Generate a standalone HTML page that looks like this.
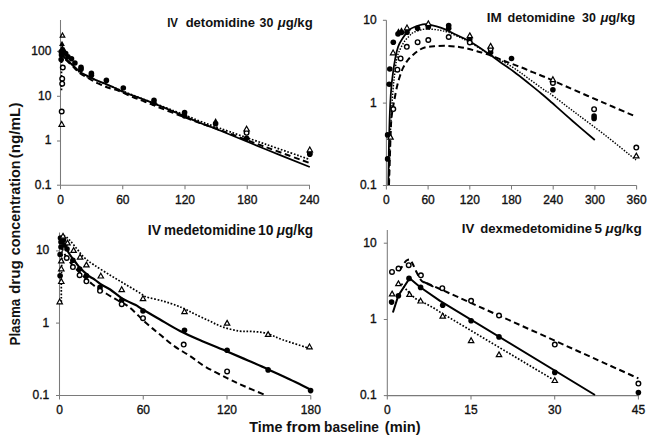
<!DOCTYPE html>
<html><head><meta charset="utf-8"><style>
html,body{margin:0;padding:0;background:#fff;}
svg{display:block;}
text{font-family:"Liberation Sans",sans-serif;fill:#111;}
.tk{font-size:12px;stroke:#111;stroke-width:0.35px;}
.ti{font-size:12.8px;font-weight:bold;}
.lb{font-size:14.4px;font-weight:bold;}
.ax{stroke:#7a7a7a;stroke-width:1.05;fill:none;}
.s{stroke:#000;stroke-width:2.2;fill:none;stroke-linejoin:round;}
.s.ptl{stroke-width:1.8;}
.s.ptr{stroke-width:1.75;}
.s.pbr{stroke-width:2.0;}
.o.ptr{stroke-width:1.45;stroke-dasharray:1.45 1.45;}
.d{stroke:#000;stroke-width:2;fill:none;stroke-dasharray:6 3.6;}
.o{stroke:#000;stroke-width:1.7;fill:none;stroke-dasharray:1.7 1.7;}
.fc{fill:#000;}
.oc{fill:#fff;stroke:#000;stroke-width:1.4;}
.tr{fill:#fff;stroke:#000;stroke-width:1.2;stroke-linejoin:miter;}
.ft{fill:#000;}
</style></head><body>
<svg width="657" height="443" viewBox="0 0 657 443">
<path class="ax" d="M60.5,20 V185.2 H310"/>
<path class="ax" d="M57.0,51.4 H60.5"/>
<path class="ax" d="M57.0,96.3 H60.5"/>
<path class="ax" d="M57.0,141 H60.5"/>
<path class="ax" d="M57.0,185.2 H60.5"/>
<path class="ax" d="M60.5,185.2 V189.2"/>
<path class="ax" d="M122.75,185.2 V189.2"/>
<path class="ax" d="M185.0,185.2 V189.2"/>
<path class="ax" d="M247.25000000000003,185.2 V189.2"/>
<path class="ax" d="M309.5,185.2 V189.2"/>
<text class="tk" transform="translate(51.4,54.8) scale(1.0,1)" text-anchor="end">100</text>
<text class="tk" transform="translate(51.4,99.7) scale(1.0,1)" text-anchor="end">10</text>
<text class="tk" transform="translate(51.4,144.4) scale(1.0,1)" text-anchor="end">1</text>
<text class="tk" transform="translate(51.4,188.6) scale(1.0,1)" text-anchor="end">0.1</text>
<text class="tk" transform="translate(60.5,203.7) scale(1.0,1)" text-anchor="middle">0</text>
<text class="tk" transform="translate(122.8,203.7) scale(1.0,1)" text-anchor="middle">60</text>
<text class="tk" transform="translate(185.0,203.7) scale(1.0,1)" text-anchor="middle">120</text>
<text class="tk" transform="translate(247.3,203.7) scale(1.0,1)" text-anchor="middle">180</text>
<text class="tk" transform="translate(309.5,203.7) scale(1.0,1)" text-anchor="middle">240</text>
<text class="ti" x="167.13" y="26.9" style="font-size:12.9px" textLength="10.85" lengthAdjust="spacingAndGlyphs">IV</text>
<text class="ti" x="185.67" y="26.9" style="font-size:12.9px" textLength="69.38" lengthAdjust="spacingAndGlyphs">detomidine</text>
<text class="ti" x="259.62" y="26.9" style="font-size:12.9px" textLength="13.79" lengthAdjust="spacingAndGlyphs">30</text>
<text class="ti" x="277.80" y="26.9" style="font-size:12.9px" textLength="34.88" lengthAdjust="spacingAndGlyphs"><tspan font-style="italic">&#956;</tspan>g/kg</text>
<path class="s ptl" d="M62.3,50.0 C62.5,51.0 61.9,54.0 63.4,56.3 C64.9,58.6 68.8,61.4 71.5,63.9 C74.2,66.5 77.0,69.6 79.7,71.6 C82.4,73.6 85.1,74.7 87.8,76.1 C90.5,77.5 93.1,78.8 96.0,80.1 C98.9,81.3 101.8,82.3 105.0,83.6 C108.2,84.9 111.7,86.5 115.0,88.0 C118.3,89.5 119.2,90.3 125.0,92.6 C130.8,94.9 141.7,98.6 150.0,101.9 C158.3,105.2 168.3,109.4 175.0,112.2 C181.7,115.0 185.8,116.8 190.0,118.6 C194.2,120.4 196.7,121.7 200.0,123.0 C203.3,124.3 206.7,125.3 210.0,126.6 C213.3,127.8 210.8,126.8 220.0,130.5 C229.2,134.2 250.0,142.9 265.0,149.0 C280.0,155.1 302.3,164.0 309.8,167.0"/>
<path class="d" d="M62.3,51.0 C62.6,52.1 62.4,55.1 64.0,57.5 C65.6,59.9 69.3,62.9 72.0,65.5 C74.7,68.1 77.3,71.1 80.0,73.2 C82.7,75.3 85.3,76.4 88.0,78.0 C90.7,79.6 93.5,81.3 96.2,82.6 C98.9,83.9 101.7,85.0 104.0,86.0 C106.3,87.0 107.5,87.5 110.0,88.3 C112.5,89.1 115.5,89.5 119.3,91.0 C123.1,92.5 128.4,95.2 132.7,97.0 C137.0,98.8 140.3,99.9 144.9,101.7 C149.5,103.5 154.2,105.5 160.0,107.8 C165.8,110.1 173.3,113.0 180.0,115.5 C186.7,118.0 193.3,120.6 200.0,123.0 C206.7,125.4 209.2,126.0 220.0,130.0 C230.8,134.0 250.0,141.3 265.0,146.8 C280.0,152.3 302.3,160.3 309.8,163.0"/>
<path class="o" d="M62.0,50.0 C62.3,51.2 62.3,54.5 64.0,57.0 C65.7,59.5 69.3,62.4 72.0,65.0 C74.7,67.6 77.3,70.5 80.0,72.5 C82.7,74.5 84.7,75.5 88.0,77.0 C91.3,78.5 93.0,79.0 100.0,81.8 C107.0,84.6 117.5,89.1 130.0,94.0 C142.5,98.9 163.3,106.7 175.0,111.2 C186.7,115.7 192.5,118.3 200.0,121.2 C207.5,124.1 209.2,124.5 220.0,128.3 C230.8,132.1 250.0,138.8 265.0,144.0 C280.0,149.2 302.3,156.9 309.8,159.5"/>
<path class="o" d="M61.5,58.0 L61.5,92.0"/>
<path class="tr" d="M62.5,33.0 L64.8,37.1 L60.2,37.1Z"/>
<path class="ft" d="M62.0,40.7 L64.9,45.9 L59.1,45.9Z"/>
<path class="ft" d="M62.3,44.7 L65.2,49.9 L59.4,49.9Z"/>
<path class="ft" d="M64.0,46.7 L66.9,51.9 L61.1,51.9Z"/>
<circle class="fc" cx="61.2" cy="51.7" r="2.8"/>
<circle class="fc" cx="61.5" cy="55.0" r="2.8"/>
<circle class="fc" cx="65.7" cy="53.5" r="2.8"/>
<circle class="fc" cx="67.9" cy="56.7" r="2.8"/>
<circle class="fc" cx="71.5" cy="58.8" r="2.8"/>
<circle class="fc" cx="74.9" cy="63.0" r="2.8"/>
<circle class="fc" cx="81.0" cy="67.4" r="2.8"/>
<circle class="fc" cx="81.0" cy="69.3" r="2.8"/>
<circle class="fc" cx="91.4" cy="73.4" r="2.8"/>
<circle class="fc" cx="91.4" cy="75.3" r="2.8"/>
<circle class="fc" cx="106.4" cy="80.4" r="2.8"/>
<circle class="fc" cx="123.3" cy="88.0" r="2.8"/>
<circle class="fc" cx="154.0" cy="100.3" r="2.8"/>
<circle class="fc" cx="154.0" cy="103.2" r="2.8"/>
<circle class="fc" cx="184.6" cy="112.6" r="2.8"/>
<circle class="fc" cx="184.6" cy="116.0" r="2.8"/>
<circle class="fc" cx="215.6" cy="123.8" r="2.8"/>
<circle class="fc" cx="246.6" cy="138.2" r="2.8"/>
<circle class="fc" cx="309.8" cy="153.0" r="2.8"/>
<circle class="fc" cx="309.8" cy="154.2" r="2.8"/>
<circle class="fc" cx="61.2" cy="59.6" r="2.8"/>
<circle class="oc" cx="62.8" cy="67.5" r="2.3"/>
<circle class="oc" cx="62.2" cy="78.7" r="2.3"/>
<circle class="oc" cx="62.2" cy="83.7" r="2.3"/>
<circle class="oc" cx="61.7" cy="111.5" r="2.3"/>
<circle class="oc" cx="246.6" cy="132.8" r="2.3"/>
<path class="tr" d="M61.7,121.5 L64.4,126.3 L59.0,126.3Z"/>
<path class="tr" d="M246.6,126.2 L249.3,131.0 L243.9,131.0Z"/>
<path class="tr" d="M309.8,147.0 L312.5,151.8 L307.1,151.8Z"/>
<path class="ft" d="M215.6,117.9 L218.4,122.9 L212.8,122.9Z"/>
<path class="ax" d="M386.4,20.3 V185.5 H636.6"/>
<path class="ax" d="M382.9,20.3 H386.4"/>
<path class="ax" d="M382.9,103.1 H386.4"/>
<path class="ax" d="M382.9,185.5 H386.4"/>
<path class="ax" d="M386.4,185.5 V189.5"/>
<path class="ax" d="M428.09999999999997,185.5 V189.5"/>
<path class="ax" d="M469.79999999999995,185.5 V189.5"/>
<path class="ax" d="M511.5,185.5 V189.5"/>
<path class="ax" d="M553.1999999999999,185.5 V189.5"/>
<path class="ax" d="M594.9,185.5 V189.5"/>
<path class="ax" d="M636.5999999999999,185.5 V189.5"/>
<text class="tk" transform="translate(376.6,24.1) scale(1.0,1)" text-anchor="end">10</text>
<text class="tk" transform="translate(376.6,106.8) scale(1.0,1)" text-anchor="end">1</text>
<text class="tk" transform="translate(376.6,189.2) scale(1.0,1)" text-anchor="end">0.1</text>
<text class="tk" transform="translate(386.4,203.7) scale(1.0,1)" text-anchor="middle">0</text>
<text class="tk" transform="translate(428.1,203.7) scale(1.0,1)" text-anchor="middle">60</text>
<text class="tk" transform="translate(469.8,203.7) scale(1.0,1)" text-anchor="middle">120</text>
<text class="tk" transform="translate(511.5,203.7) scale(1.0,1)" text-anchor="middle">180</text>
<text class="tk" transform="translate(553.2,203.7) scale(1.0,1)" text-anchor="middle">240</text>
<text class="tk" transform="translate(594.9,203.7) scale(1.0,1)" text-anchor="middle">300</text>
<text class="tk" transform="translate(636.6,203.7) scale(1.0,1)" text-anchor="middle">360</text>
<text class="ti" x="486.80" y="21.8" style="font-size:12.9px" textLength="15.01" lengthAdjust="spacingAndGlyphs">IM</text>
<text class="ti" x="507.48" y="21.8" style="font-size:12.9px" textLength="67.65" lengthAdjust="spacingAndGlyphs">detomidine</text>
<text class="ti" x="582.12" y="21.8" style="font-size:12.9px" textLength="13.79" lengthAdjust="spacingAndGlyphs">30</text>
<text class="ti" x="600.40" y="21.8" style="font-size:12.9px" textLength="34.88" lengthAdjust="spacingAndGlyphs"><tspan font-style="italic">&#956;</tspan>g/kg</text>
<path class="s ptr" d="M388.3,185.0 C388.4,180.8 388.6,168.3 388.7,160.0 C388.8,151.7 388.9,144.2 389.2,135.0 C389.4,125.8 389.8,113.2 390.2,105.0 C390.6,96.8 391.0,91.2 391.5,85.7 C392.0,80.2 392.5,76.6 393.1,72.1 C393.7,67.6 394.4,62.9 395.2,58.6 C396.0,54.3 397.0,49.9 398.2,46.5 C399.4,43.1 400.7,41.2 402.5,38.5 C404.3,35.8 406.9,32.0 409.1,30.0 C411.3,28.0 413.2,27.5 415.5,26.6 C417.8,25.7 420.8,24.8 422.8,24.4 C424.8,24.0 425.1,24.0 427.4,24.3 C429.7,24.6 433.4,25.5 436.5,26.4 C439.6,27.3 442.6,28.3 445.7,29.6 C448.8,30.9 450.9,32.3 455.0,34.3 C459.1,36.3 464.3,38.2 470.0,41.5 C475.7,44.8 484.0,50.6 489.0,54.0 C494.0,57.4 495.9,59.1 500.0,62.0 C504.1,64.9 509.1,68.2 513.6,71.5 C518.1,74.8 522.6,78.4 527.1,82.0 C531.6,85.6 536.9,89.8 540.7,93.0 C544.5,96.2 544.8,96.4 550.0,101.0 C555.2,105.6 564.5,114.0 572.0,120.5 C579.5,127.0 591.0,136.8 594.8,140.0"/>
<path class="o ptr" d="M388.8,185.0 C388.9,180.8 389.1,168.3 389.4,160.0 C389.6,151.7 389.9,143.3 390.3,135.0 C390.7,126.7 391.2,117.5 391.6,110.0 C392.1,102.5 392.5,95.8 393.0,90.0 C393.5,84.2 394.0,80.0 394.6,75.0 C395.2,70.0 395.8,63.8 396.5,60.0 C397.2,56.2 397.6,55.2 398.8,52.3 C400.0,49.4 402.1,45.1 403.8,42.4 C405.5,39.7 407.6,37.8 409.2,36.1 C410.8,34.4 411.4,33.5 413.7,32.4 C416.0,31.3 419.8,29.9 422.8,29.4 C425.9,28.9 428.9,29.0 432.0,29.2 C435.1,29.4 438.4,30.0 441.1,30.5 C443.8,31.0 445.6,31.4 448.4,32.4 C451.2,33.4 454.4,34.8 458.0,36.5 C461.6,38.2 464.8,39.6 470.0,42.5 C475.2,45.4 484.0,51.1 489.0,54.0 C494.0,56.9 495.9,57.7 500.0,60.0 C504.1,62.3 509.1,64.9 513.6,67.8 C518.1,70.7 521.9,73.7 527.1,77.5 C532.3,81.3 541.2,87.8 545.0,90.5 C548.8,93.2 545.0,89.8 550.0,93.5 C555.0,97.2 565.8,105.6 575.0,112.5 C584.2,119.4 594.8,127.2 605.0,135.1 C615.2,143.0 630.8,155.8 636.0,160.0"/>
<path class="d" d="M389.0,185.0 C389.1,180.8 389.5,170.0 389.8,160.0 C390.1,150.0 390.6,133.3 391.0,125.0 C391.4,116.7 392.1,113.3 392.5,110.0 C392.9,106.7 393.1,106.8 393.4,105.0 C393.7,103.2 393.9,102.4 394.5,99.2 C395.1,96.0 396.3,89.5 397.2,85.7 C398.1,81.9 398.9,79.2 399.9,76.2 C400.9,73.2 401.9,70.1 403.3,67.4 C404.7,64.7 406.3,62.0 408.0,59.9 C409.7,57.8 411.7,56.1 413.5,54.5 C415.3,52.9 417.1,51.4 419.0,50.2 C420.9,49.0 422.2,48.2 424.7,47.5 C427.2,46.8 430.2,46.5 434.0,46.2 C437.8,45.9 443.5,45.8 447.7,45.9 C451.9,46.0 455.6,46.5 459.0,47.0 C462.4,47.5 465.0,48.0 468.0,48.7 C471.0,49.4 474.0,50.4 477.0,51.2 C480.0,52.1 482.7,52.7 486.0,53.8 C489.3,54.9 493.8,56.7 497.0,57.9 C500.2,59.1 502.2,60.1 505.0,61.2 C507.8,62.3 511.0,63.5 514.0,64.6 C517.0,65.7 519.9,66.8 523.0,68.0 C526.1,69.2 528.8,70.6 532.5,72.1 C536.2,73.6 539.6,74.7 545.4,77.2 C551.2,79.7 557.8,82.8 567.4,87.0 C577.0,91.2 592.1,97.8 603.3,102.6 C614.4,107.4 629.1,113.7 634.3,115.9"/>
<circle class="fc" cx="387.6" cy="158.9" r="2.8"/>
<circle class="fc" cx="387.6" cy="134.9" r="2.8"/>
<circle class="fc" cx="389.2" cy="84.2" r="2.8"/>
<circle class="fc" cx="389.8" cy="69.0" r="2.8"/>
<circle class="fc" cx="393.3" cy="42.2" r="2.8"/>
<circle class="fc" cx="398.0" cy="34.0" r="2.8"/>
<circle class="fc" cx="401.5" cy="32.5" r="2.8"/>
<circle class="fc" cx="407.0" cy="32.3" r="2.8"/>
<circle class="fc" cx="417.6" cy="28.3" r="2.8"/>
<circle class="fc" cx="428.3" cy="26.9" r="2.8"/>
<circle class="fc" cx="448.7" cy="25.6" r="2.8"/>
<circle class="fc" cx="448.7" cy="28.3" r="2.8"/>
<circle class="fc" cx="469.8" cy="39.0" r="2.8"/>
<circle class="fc" cx="490.6" cy="52.5" r="2.8"/>
<circle class="fc" cx="511.5" cy="58.5" r="2.8"/>
<circle class="fc" cx="552.9" cy="89.8" r="2.8"/>
<circle class="fc" cx="594.1" cy="116.0" r="2.8"/>
<circle class="fc" cx="594.1" cy="118.4" r="2.8"/>
<path class="ft" d="M398.5,28.2 L401.4,33.4 L395.6,33.4Z"/>
<path class="ft" d="M401.5,27.2 L404.4,32.4 L398.6,32.4Z"/>
<circle class="oc" cx="393.3" cy="109.1" r="2.3"/>
<circle class="oc" cx="397.4" cy="69.7" r="2.3"/>
<circle class="oc" cx="400.6" cy="58.4" r="2.3"/>
<circle class="oc" cx="406.8" cy="46.8" r="2.3"/>
<circle class="oc" cx="417.6" cy="42.2" r="2.3"/>
<circle class="oc" cx="428.3" cy="40.0" r="2.3"/>
<circle class="oc" cx="448.7" cy="37.0" r="2.3"/>
<circle class="oc" cx="469.8" cy="42.5" r="2.3"/>
<circle class="oc" cx="490.6" cy="49.0" r="2.3"/>
<circle class="oc" cx="552.9" cy="82.9" r="2.3"/>
<circle class="oc" cx="594.1" cy="109.2" r="2.3"/>
<circle class="oc" cx="636.3" cy="147.6" r="2.3"/>
<path class="tr" d="M390.5,134.4 L393.2,139.2 L387.8,139.2Z"/>
<path class="tr" d="M393.1,50.0 L395.8,54.8 L390.4,54.8Z"/>
<path class="tr" d="M407.0,25.0 L409.7,29.8 L404.3,29.8Z"/>
<path class="tr" d="M428.3,20.9 L431.0,25.7 L425.6,25.7Z"/>
<path class="tr" d="M469.8,32.9 L472.5,37.7 L467.1,37.7Z"/>
<path class="tr" d="M490.6,43.4 L493.3,48.2 L487.9,48.2Z"/>
<path class="tr" d="M552.9,76.8 L555.6,81.6 L550.2,81.6Z"/>
<path class="tr" d="M636.3,153.1 L639.0,157.9 L633.6,157.9Z"/>
<path class="ax" d="M59.5,232.5 V395.5 H310.8"/>
<path class="ax" d="M56.0,250.9 H59.5"/>
<path class="ax" d="M56.0,323.1 H59.5"/>
<path class="ax" d="M56.0,395.5 H59.5"/>
<path class="ax" d="M59.5,395.5 V399.5"/>
<path class="ax" d="M143.26,395.5 V399.5"/>
<path class="ax" d="M227.01999999999998,395.5 V399.5"/>
<path class="ax" d="M310.78,395.5 V399.5"/>
<text class="tk" transform="translate(49.3,254.3) scale(1.0,1)" text-anchor="end">10</text>
<text class="tk" transform="translate(49.3,326.5) scale(1.0,1)" text-anchor="end">1</text>
<text class="tk" transform="translate(49.3,398.9) scale(1.0,1)" text-anchor="end">0.1</text>
<text class="tk" transform="translate(59.5,413.6) scale(1.0,1)" text-anchor="middle">0</text>
<text class="tk" transform="translate(143.3,413.6) scale(1.0,1)" text-anchor="middle">60</text>
<text class="tk" transform="translate(227.0,413.6) scale(1.0,1)" text-anchor="middle">120</text>
<text class="tk" transform="translate(310.8,413.6) scale(1.0,1)" text-anchor="middle">180</text>
<text class="ti" x="147.86" y="234.8" style="font-size:13.8px" textLength="13.23" lengthAdjust="spacingAndGlyphs">IV</text>
<text class="ti" x="164.01" y="234.8" style="font-size:13.8px" textLength="91.75" lengthAdjust="spacingAndGlyphs">medetomidine</text>
<text class="ti" x="257.93" y="234.8" style="font-size:13.8px" textLength="15.44" lengthAdjust="spacingAndGlyphs">10</text>
<text class="ti" x="276.81" y="234.8" style="font-size:13.8px" textLength="36.30" lengthAdjust="spacingAndGlyphs"><tspan font-style="italic">&#956;</tspan>g/kg</text>
<path class="s" d="M60.5,236.0 C60.8,236.7 61.1,238.0 62.0,240.0 C62.9,242.0 64.7,245.5 66.0,248.0 C67.3,250.5 68.6,252.8 70.1,255.0 C71.6,257.2 73.3,259.3 75.0,261.5 C76.7,263.7 77.8,265.7 80.1,268.1 C82.4,270.6 86.6,274.2 89.1,276.2 C91.6,278.1 92.8,278.3 95.0,279.8 C97.2,281.3 99.5,283.4 102.0,285.0 C104.5,286.6 106.8,287.2 110.2,289.5 C113.6,291.8 118.2,296.0 122.4,298.6 C126.7,301.2 132.4,303.3 135.7,305.0 C139.0,306.7 137.9,306.6 142.0,309.0 C146.1,311.4 153.7,315.8 160.0,319.5 C166.3,323.2 172.8,327.3 180.0,331.0 C187.2,334.7 195.2,338.1 203.0,341.5 C210.8,344.9 219.6,348.3 227.1,351.5 C234.6,354.7 241.2,357.5 248.0,360.5 C254.8,363.5 261.1,366.2 268.1,369.4 C275.1,372.6 283.0,376.2 290.0,379.5 C297.0,382.8 306.9,387.7 310.3,389.3"/>
<path class="d" d="M61.0,245.0 C61.5,246.3 62.5,250.2 64.0,253.0 C65.5,255.8 67.3,258.7 70.0,262.0 C72.7,265.3 76.3,269.3 80.0,273.0 C83.7,276.7 87.7,280.6 92.0,284.0 C96.3,287.4 101.8,290.8 106.1,293.5 C110.4,296.2 114.1,298.2 118.0,300.5 C121.9,302.8 124.7,303.5 129.5,307.4 C134.3,311.3 141.8,319.2 147.0,323.8 C152.2,328.4 156.0,331.3 160.6,335.1 C165.2,338.9 169.7,342.9 174.6,346.4 C179.5,349.9 184.9,352.6 190.0,356.0 C195.1,359.4 198.8,362.8 205.0,366.5 C211.2,370.2 220.4,374.8 227.1,378.1 C233.8,381.4 238.7,383.7 245.0,386.5 C251.3,389.3 261.7,393.6 265.0,395.0"/>
<path class="o" d="M61.3,302.0 L61.3,280.0"/>
<path class="o" d="M61.3,280.0 C61.5,274.7 61.9,255.3 62.3,248.0 C62.7,240.7 62.2,237.2 63.5,236.0 C64.8,234.8 67.8,238.3 70.0,240.5 C72.2,242.7 74.6,246.2 77.0,249.0 C79.4,251.8 81.4,254.8 84.2,257.5 C87.0,260.2 89.8,262.1 94.1,265.0 C98.4,267.9 105.0,272.0 110.2,275.2 C115.4,278.4 120.4,281.3 125.5,284.4 C130.6,287.4 137.3,291.4 140.7,293.5 C144.1,295.6 142.3,295.6 146.0,296.8 C149.7,298.1 157.7,299.6 162.8,301.0 C167.9,302.4 172.7,304.1 176.5,305.5 C180.3,306.9 182.6,308.0 185.7,309.4 C188.8,310.8 191.0,312.1 194.8,314.0 C198.6,315.9 203.9,318.4 208.5,320.5 C213.1,322.6 217.1,325.1 222.2,326.8 C227.3,328.6 233.9,330.2 238.9,331.0 C243.9,331.8 247.5,331.1 252.0,331.5 C256.5,331.9 261.0,331.8 266.1,333.2 C271.2,334.6 275.9,337.4 282.5,339.7 C289.1,342.0 301.2,345.7 305.8,347.2 C310.4,348.7 309.6,348.3 310.3,348.5"/>
<circle class="fc" cx="60.5" cy="238.0" r="2.8"/>
<circle class="fc" cx="61.0" cy="242.0" r="2.8"/>
<circle class="fc" cx="63.5" cy="240.0" r="2.8"/>
<circle class="fc" cx="65.0" cy="245.0" r="2.8"/>
<circle class="fc" cx="61.0" cy="247.0" r="2.8"/>
<circle class="fc" cx="60.1" cy="254.5" r="2.8"/>
<circle class="fc" cx="60.1" cy="275.7" r="2.8"/>
<circle class="fc" cx="72.9" cy="260.3" r="2.8"/>
<circle class="fc" cx="79.6" cy="269.1" r="2.8"/>
<circle class="fc" cx="86.4" cy="275.9" r="2.8"/>
<circle class="fc" cx="100.0" cy="287.4" r="2.8"/>
<circle class="fc" cx="121.7" cy="300.2" r="2.8"/>
<circle class="fc" cx="143.0" cy="311.0" r="2.8"/>
<circle class="fc" cx="184.5" cy="330.2" r="2.8"/>
<circle class="fc" cx="227.1" cy="350.3" r="2.8"/>
<circle class="fc" cx="268.1" cy="369.9" r="2.8"/>
<circle class="fc" cx="310.6" cy="390.6" r="2.8"/>
<circle class="fc" cx="67.0" cy="249.0" r="2.8"/>
<circle class="oc" cx="66.7" cy="258.0" r="2.3"/>
<circle class="oc" cx="72.9" cy="267.1" r="2.3"/>
<circle class="oc" cx="79.6" cy="275.2" r="2.3"/>
<circle class="oc" cx="86.4" cy="281.3" r="2.3"/>
<circle class="oc" cx="100.0" cy="290.8" r="2.3"/>
<circle class="oc" cx="121.7" cy="304.2" r="2.3"/>
<circle class="oc" cx="143.0" cy="318.2" r="2.3"/>
<circle class="oc" cx="183.7" cy="344.6" r="2.3"/>
<circle class="oc" cx="227.1" cy="371.4" r="2.3"/>
<path class="tr" d="M61.3,258.1 L64.0,262.9 L58.6,262.9Z"/>
<path class="tr" d="M61.3,266.0 L64.0,270.8 L58.6,270.8Z"/>
<path class="tr" d="M61.3,278.7 L64.0,283.5 L58.6,283.5Z"/>
<path class="tr" d="M59.7,299.0 L62.4,303.8 L57.0,303.8Z"/>
<path class="tr" d="M67.5,240.1 L70.2,244.9 L64.8,244.9Z"/>
<path class="tr" d="M73.6,247.6 L76.3,252.4 L70.9,252.4Z"/>
<path class="tr" d="M80.1,254.3 L82.8,259.1 L77.4,259.1Z"/>
<path class="tr" d="M86.4,262.1 L89.1,266.9 L83.7,266.9Z"/>
<path class="tr" d="M100.8,273.2 L103.5,278.0 L98.1,278.0Z"/>
<path class="tr" d="M121.7,286.8 L124.4,291.6 L119.0,291.6Z"/>
<path class="tr" d="M143.0,295.8 L145.7,300.6 L140.3,300.6Z"/>
<path class="tr" d="M184.5,308.8 L187.2,313.6 L181.8,313.6Z"/>
<path class="tr" d="M227.1,320.4 L229.8,325.2 L224.4,325.2Z"/>
<path class="tr" d="M268.1,331.6 L270.8,336.4 L265.4,336.4Z"/>
<path class="tr" d="M309.5,344.0 L312.2,348.8 L306.8,348.8Z"/>
<path class="tr" d="M63.0,233.4 L65.7,238.2 L60.3,238.2Z"/>
<path class="ax" d="M387.3,230 V395.6 H638.4"/>
<path class="ax" d="M383.8,243.2 H387.3"/>
<path class="ax" d="M383.8,319.5 H387.3"/>
<path class="ax" d="M383.8,395.6 H387.3"/>
<path class="ax" d="M387.3,395.6 V399.6"/>
<path class="ax" d="M471.0,395.6 V399.6"/>
<path class="ax" d="M554.7,395.6 V399.6"/>
<path class="ax" d="M638.4,395.6 V399.6"/>
<text class="tk" transform="translate(376.6,246.6) scale(1.0,1)" text-anchor="end">10</text>
<text class="tk" transform="translate(376.6,322.9) scale(1.0,1)" text-anchor="end">1</text>
<text class="tk" transform="translate(376.6,399.0) scale(1.0,1)" text-anchor="end">0.1</text>
<text class="tk" transform="translate(387.3,413.6) scale(1.0,1)" text-anchor="middle">0</text>
<text class="tk" transform="translate(471.0,413.6) scale(1.0,1)" text-anchor="middle">15</text>
<text class="tk" transform="translate(554.7,413.6) scale(1.0,1)" text-anchor="middle">30</text>
<text class="tk" transform="translate(638.4,413.6) scale(1.0,1)" text-anchor="middle">45</text>
<text class="ti" x="461.71" y="232.8" style="font-size:13.7px" textLength="12.58" lengthAdjust="spacingAndGlyphs">IV</text>
<text class="ti" x="480.26" y="232.8" style="font-size:13.7px" textLength="111.79" lengthAdjust="spacingAndGlyphs">dexmedetomidine</text>
<text class="ti" x="594.39" y="232.8" style="font-size:13.7px" textLength="7.49" lengthAdjust="spacingAndGlyphs">5</text>
<text class="ti" x="605.61" y="232.8" style="font-size:13.7px" textLength="36.10" lengthAdjust="spacingAndGlyphs"><tspan font-style="italic">&#956;</tspan>g/kg</text>
<path class="s pbr" d="M392.9,312.5 L398.3,295.6 L409.6,278.3 L420.3,287.3 L440.0,300.9 L595.0,395.0"/>
<path class="d" d="M399.0,271.0 C399.4,270.4 400.7,268.7 401.7,267.2 C402.7,265.7 404.2,263.0 405.2,261.8 C406.2,260.6 406.9,260.2 407.8,259.9 C408.7,259.6 409.5,259.2 410.4,260.0 C411.3,260.8 412.1,262.7 413.0,264.5 C413.9,266.3 414.9,268.8 416.0,271.0 C417.1,273.2 418.5,276.3 419.5,278.0 C420.5,279.7 420.8,280.3 422.0,281.2 C423.2,282.1 425.2,282.8 427.0,283.6 C428.8,284.5 430.3,285.4 432.5,286.3 C434.7,287.2 405.7,273.6 440.0,289.0 C474.3,304.4 605.3,363.5 638.4,378.4"/>
<path class="o" d="M401.4,283.6 L405.4,288.6 L409.5,293.2 L415.3,298.5 L420.3,301.0 L424.8,303.2 L433.0,307.5 L439.7,311.9 L552.0,378.9"/>
<circle class="fc" cx="391.6" cy="302.1" r="2.8"/>
<circle class="fc" cx="398.4" cy="295.8" r="2.8"/>
<circle class="fc" cx="409.0" cy="278.4" r="2.8"/>
<circle class="fc" cx="420.6" cy="287.4" r="2.8"/>
<circle class="fc" cx="442.7" cy="305.3" r="2.8"/>
<circle class="fc" cx="471.1" cy="320.8" r="2.8"/>
<circle class="fc" cx="499.0" cy="336.9" r="2.8"/>
<circle class="fc" cx="554.8" cy="372.4" r="2.8"/>
<circle class="fc" cx="638.4" cy="392.6" r="2.8"/>
<circle class="oc" cx="392.0" cy="271.9" r="2.3"/>
<circle class="oc" cx="398.5" cy="268.5" r="2.3"/>
<circle class="oc" cx="408.7" cy="265.2" r="2.3"/>
<circle class="oc" cx="420.9" cy="275.3" r="2.3"/>
<circle class="oc" cx="442.3" cy="288.2" r="2.3"/>
<circle class="oc" cx="471.1" cy="300.8" r="2.3"/>
<circle class="oc" cx="499.0" cy="315.5" r="2.3"/>
<circle class="oc" cx="554.8" cy="344.6" r="2.3"/>
<circle class="oc" cx="638.4" cy="383.6" r="2.3"/>
<path class="tr" d="M392.1,291.1 L394.8,295.9 L389.4,295.9Z"/>
<path class="tr" d="M398.4,280.9 L401.1,285.7 L395.7,285.7Z"/>
<path class="tr" d="M409.5,291.6 L412.2,296.4 L406.8,296.4Z"/>
<path class="tr" d="M420.6,298.2 L423.3,303.0 L417.9,303.0Z"/>
<path class="tr" d="M442.7,313.3 L445.4,318.1 L440.0,318.1Z"/>
<path class="tr" d="M471.1,337.8 L473.8,342.6 L468.4,342.6Z"/>
<path class="tr" d="M499.0,351.9 L501.7,356.7 L496.3,356.7Z"/>
<path class="tr" d="M554.8,377.7 L557.5,382.5 L552.1,382.5Z"/>
<text class="lb" x="0" y="0" transform="translate(20.4,345.49) rotate(-90)" style="font-size:14px" textLength="46.71" lengthAdjust="spacingAndGlyphs">Plasma</text>
<text class="lb" x="0" y="0" transform="translate(20.4,294.02) rotate(-90)" style="font-size:14px" textLength="33.74" lengthAdjust="spacingAndGlyphs">drug</text>
<text class="lb" x="0" y="0" transform="translate(20.4,255.16) rotate(-90)" style="font-size:14px" textLength="94.55" lengthAdjust="spacingAndGlyphs">concentration</text>
<text class="lb" x="0" y="0" transform="translate(20.4,158.26) rotate(-90)" style="font-size:14px" textLength="55.71" lengthAdjust="spacingAndGlyphs">(ng/mL)</text>
<text class="lb" x="249.34" y="431.7" style="font-size:14.4px" textLength="33.14" lengthAdjust="spacingAndGlyphs">Time</text>
<text class="lb" x="286.24" y="431.7" style="font-size:14.4px" textLength="34.43" lengthAdjust="spacingAndGlyphs">from</text>
<text class="lb" x="324.10" y="431.7" style="font-size:14.4px" textLength="54.77" lengthAdjust="spacingAndGlyphs">baseline</text>
<text class="lb" x="384.77" y="431.7" style="font-size:14.4px" textLength="35.76" lengthAdjust="spacingAndGlyphs">(min)</text>
</svg></body></html>
